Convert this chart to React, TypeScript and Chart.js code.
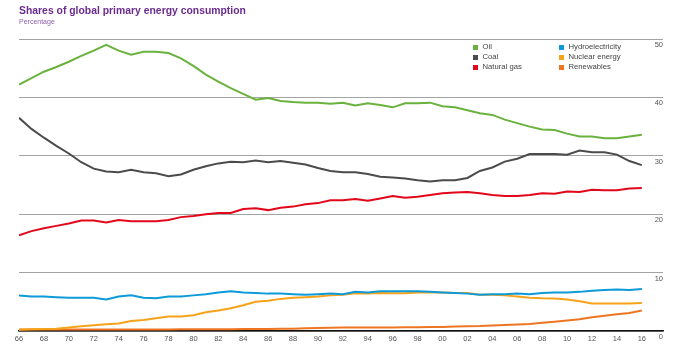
import React, { useEffect, useRef } from "react";
import { Chart, registerables } from "chart.js";

Chart.register(...registerables);

const years: number[] = [];
for (let y = 1966; y <= 2016; y++) years.push(y);

const tickYears = [1966, 1968, 1970, 1972, 1974, 1976, 1978, 1980, 1982, 1984, 1986, 1988, 1990, 1992, 1994, 1996, 1998, 2000, 2002, 2004, 2006, 2008, 2010, 2012, 2014, 2016];

const oil = [42.2, 43.3, 44.4, 45.2, 46.1, 47.1, 48.0, 49.0, 48.0, 47.3,
  47.8, 47.8, 47.6, 46.7, 45.4, 43.9, 42.7, 41.6, 40.6, 39.6,
  39.9, 39.4, 39.2, 39.1, 39.1, 38.9, 39.1, 38.6, 39.0, 38.7,
  38.3, 39.0, 39.0, 39.1, 38.5, 38.3, 37.8, 37.3, 37.0, 36.2,
  35.6, 35.0, 34.5, 34.4, 33.8, 33.3, 33.3, 33.0, 33.0, 33.3, 33.6];
const coal = [36.5, 34.6, 33.1, 31.7, 30.4, 28.9, 27.8, 27.3, 27.2, 27.6,
  27.2, 27.0, 26.5, 26.8, 27.6, 28.2, 28.7, 29.0, 28.9, 29.2,
  28.9, 29.1, 28.8, 28.5, 27.9, 27.4, 27.2, 27.2, 26.9, 26.4,
  26.3, 26.1, 25.8, 25.6, 25.8, 25.8, 26.2, 27.4, 28.0, 29.0,
  29.5, 30.3, 30.3, 30.3, 30.2, 30.9, 30.6, 30.6, 30.2, 29.1, 28.4];
const naturalGas = [16.4, 17.1, 17.6, 18.0, 18.4, 18.9, 18.9, 18.6, 19.0, 18.8,
  18.8, 18.8, 19.0, 19.5, 19.7, 20.0, 20.2, 20.2, 20.9, 21.0,
  20.7, 21.1, 21.3, 21.7, 21.9, 22.4, 22.4, 22.6, 22.3, 22.7,
  23.1, 22.8, 23.0, 23.3, 23.6, 23.7, 23.8, 23.6, 23.3, 23.1,
  23.1, 23.3, 23.6, 23.5, 23.9, 23.8, 24.2, 24.1, 24.1, 24.4, 24.5];
const hydro = [6.1, 5.9, 5.9, 5.8, 5.7, 5.7, 5.7, 5.4, 5.9, 6.1,
  5.7, 5.6, 5.9, 5.9, 6.1, 6.3, 6.6, 6.8, 6.6, 6.5,
  6.4, 6.4, 6.3, 6.2, 6.3, 6.4, 6.3, 6.7, 6.6, 6.8,
  6.8, 6.8, 6.8, 6.7, 6.6, 6.5, 6.4, 6.2, 6.3, 6.3,
  6.4, 6.3, 6.5, 6.6, 6.6, 6.7, 6.9, 7.0, 7.1, 7.0, 7.2];
const nuclear = [0.2, 0.3, 0.35, 0.4, 0.6, 0.8, 1.0, 1.15, 1.3, 1.7,
  1.9, 2.2, 2.5, 2.5, 2.7, 3.2, 3.5, 3.9, 4.4, 5.0,
  5.2, 5.5, 5.7, 5.8, 5.9, 6.1, 6.2, 6.45, 6.4, 6.5,
  6.45, 6.45, 6.6, 6.6, 6.6, 6.5, 6.5, 6.2, 6.2, 6.1,
  5.9, 5.7, 5.6, 5.55, 5.4, 5.1, 4.7, 4.7, 4.7, 4.7, 4.8];
const renewables = [0.25, 0.25, 0.25, 0.25, 0.25, 0.25, 0.25, 0.25, 0.25, 0.25,
  0.25, 0.25, 0.25, 0.28, 0.3, 0.3, 0.3, 0.32, 0.35, 0.35,
  0.35, 0.38, 0.4, 0.45, 0.5, 0.55, 0.6, 0.6, 0.6, 0.6,
  0.62, 0.64, 0.66, 0.68, 0.7, 0.75, 0.8, 0.85, 0.95, 1.02,
  1.1, 1.2, 1.4, 1.6, 1.8, 2.0, 2.35, 2.6, 2.85, 3.1, 3.5];

const yTicks = [0, 10, 20, 30, 40, 50];

const seriesNames = ["Oil", "Coal", "Natural gas", "Hydroelectricity", "Nuclear energy", "Renewables"];
const seriesColors = ["#6ab23e", "#4b4b4b", "#e2071b", "#0d9ad8", "#f7a21b", "#ee7623"];
const seriesValues = [oil, coal, naturalGas, hydro, nuclear, renewables];

const FONT = '"Liberation Sans", Arial, sans-serif';

export default function App() {
  const ref = useRef<HTMLCanvasElement | null>(null);

  useEffect(() => {
    if (!ref.current) return;
    const datasets = seriesNames.map((name, i) => ({
      label: name,
      data: years.map((yr, j) => ({ x: yr, y: seriesValues[i][j] })),
      borderColor: seriesColors[i],
      backgroundColor: seriesColors[i],
      borderWidth: 2,
      pointRadius: 0,
      tension: 0,
      fill: false,
    }));
    const chart = new Chart(ref.current, {
      type: "line",
      data: { datasets },
      options: {
        animation: false,
        responsive: false,
        layout: { padding: { left: 19, right: 28, top: 39, bottom: 8 } },
        plugins: { legend: { display: false }, tooltip: { enabled: false }, title: { display: false } },
        scales: {
          x: {
            type: "linear",
            min: 1966,
            max: 2017.7,
            afterBuildTicks: (axis: any) => {
              axis.ticks = tickYears.map((v) => ({ value: v }));
            },
            grid: { display: false, drawTicks: false },
            border: { display: true, color: "#111", width: 1.5 },
            ticks: {
              autoSkip: false,
              maxRotation: 0,
              padding: 3,
              color: "#555",
              font: { family: FONT, size: 7.5 },
              callback: (v: any) => String(Number(v) % 100).padStart(2, "0"),
            },
          },
          y: {
            position: "right",
            min: 0,
            max: 50,
            afterBuildTicks: (axis: any) => {
              axis.ticks = yTicks.map((v) => ({ value: v }));
            },
            grid: { color: "#a3a3a3", lineWidth: 1, drawTicks: false },
            border: { display: false },
            ticks: {
              mirror: true,
              padding: 0,
              labelOffset: 6,
              color: "#555",
              font: { family: FONT, size: 7.5 },
            },
          },
        },
      },
    });
    return () => chart.destroy();
  }, []);

  const legendRows = [0, 1, 2];
  return (
    <div style={{ position: "absolute", left: 0, top: 0, width: 691, height: 354, background: "#fff", fontFamily: FONT }}>
      <canvas ref={ref} width={691} height={354} style={{ position: "absolute", left: 0, top: 0, width: 691, height: 354 }} />
      <div style={{ position: "absolute", left: 19, top: 6, fontSize: 10.4, fontWeight: "bold", color: "#6a2c8e", lineHeight: 1, whiteSpace: "nowrap" }}>
        Shares of global primary energy consumption
      </div>
      <div style={{ position: "absolute", left: 19, top: 17.5, fontSize: 7, color: "#8e61ad", lineHeight: 1, whiteSpace: "nowrap" }}>
        Percentage
      </div>
      {seriesNames.map((name, i) => {
        const col = Math.floor(i / 3);
        const row = legendRows[i % 3];
        const boxX = col === 0 ? 473 : 559;
        const cy = 47.3 + row * 10;
        return (
          <React.Fragment key={name}>
            <div style={{ position: "absolute", left: boxX, top: cy - 2.5, width: 5, height: 5, background: seriesColors[i] }} />
            <div style={{ position: "absolute", left: boxX + 9.5, top: cy - 5, fontSize: 7.7, lineHeight: "10px", color: "#444", whiteSpace: "nowrap" }}>
              {name}
            </div>
          </React.Fragment>
        );
      })}
    </div>
  );
}
